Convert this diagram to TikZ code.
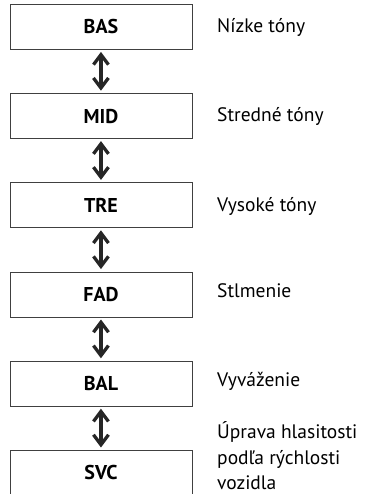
\documentclass[tikz,border=0pt]{standalone}
\usepackage{fontspec}
\setmainfont{PT Sans}
\usetikzlibrary{arrows.meta}
\begin{document}
\begin{tikzpicture}[x=1pt,y=-1pt,
  box/.style={draw=black!75, line width=0.9pt, minimum width=182pt, minimum height=45pt, inner sep=0pt, font=\fontsize{20}{22}\selectfont\bfseries, anchor=north west},
  lbl/.style={anchor=base west, font=\fontsize{19.5}{26}\selectfont, align=left, inner sep=0pt},
  dbl/.style={line width=3.3pt, {Straight Barb[length=10pt,width=15pt,line width=3.3pt]}-{Straight Barb[length=10pt,width=15pt,line width=3.3pt]}, draw=black!85}]
\useasboundingbox (0,0) rectangle (368,494);
\node[box] (bas) at (9.5,4) {BAS};
\node[box] (mid) at (9.5,93.2) {MID};
\node[box] (tre) at (9.5,182.4) {TRE};
\node[box] (fad) at (9.5,271.6) {FAD};
\node[box] (bal) at (9.5,360.8) {BAL};
\node[box] (svc) at (9.5,450) {SVC};
\node[lbl] (l1) at (217,33) {Nízke tóny};
\node[lbl] (l2) at (217,122) {Stredné tóny};
\node[lbl] (l3) at (217,211) {Vysoké tóny};
\node[lbl] (l4) at (217,297) {Stlmenie};
\node[lbl] (l5) at (217,386) {Vyváženie};
\node[lbl] (l6) at (217,438.5) {Úprava hlasitosti};
\node[lbl] (l7) at (217,464) {podľa rýchlosti};
\node[lbl] (l8) at (217,489.5) {vozidla};
\foreach \a/\b in {bas/mid, mid/tre, tre/fad, fad/bal, bal/svc}
  \draw[dbl] ([yshift=-2pt]\a.south) -- ([yshift=2.5pt]\b.north);
\end{tikzpicture}
\end{document}
